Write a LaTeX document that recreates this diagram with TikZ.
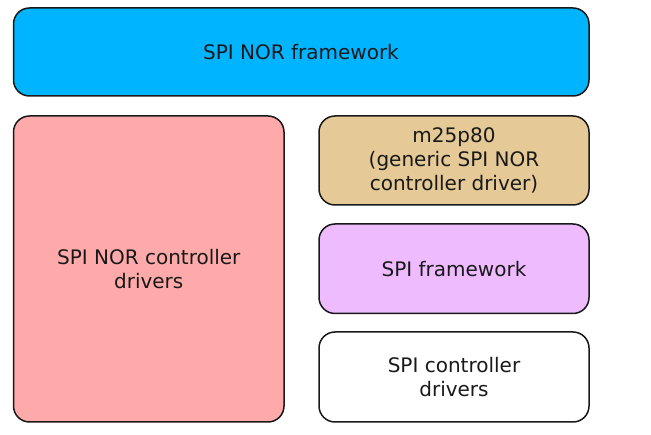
\documentclass[tikz,border=0pt]{standalone}
\usepackage{fontspec}
\setmainfont{DejaVu Sans}
\definecolor{cyanbox}{RGB}{0,180,255}
\definecolor{pinkbox}{RGB}{255,170,170}
\definecolor{tanbox}{RGB}{229,201,150}
\definecolor{violetbox}{RGB}{238,187,255}
\tikzset{
  blk/.style={draw=black!90, line width=1.5pt, rounded corners=16pt},
  lbl/.style={align=center, font=\fontsize{20pt}{24pt}\selectfont, text=black!90}
}
\begin{document}
\begin{tikzpicture}[x=1pt,y=-1pt]
\useasboundingbox (0,0) rectangle (651,435);
\draw[blk, fill=cyanbox] (13.5,8) rectangle (589,96);
\node[lbl] (nor) at (301,52) {SPI NOR framework};
\draw[blk, fill=pinkbox] (13.5,116) rectangle (284,422);
\node[lbl] (norctl) at (148.75,269) {SPI NOR controller\\drivers};
\draw[blk, fill=tanbox] (319,116) rectangle (589,205);
\node[lbl] (m25) at (454,160.5) {m25p80\\(generic SPI NOR\\controller driver)};
\draw[blk, fill=violetbox] (319,224) rectangle (589,313.5);
\node[lbl] (spi) at (454,268.75) {SPI framework};
\draw[blk, fill=white] (319,332) rectangle (589,422);
\node[lbl] (spictl) at (454,377) {SPI controller\\drivers};
\end{tikzpicture}
\end{document}
